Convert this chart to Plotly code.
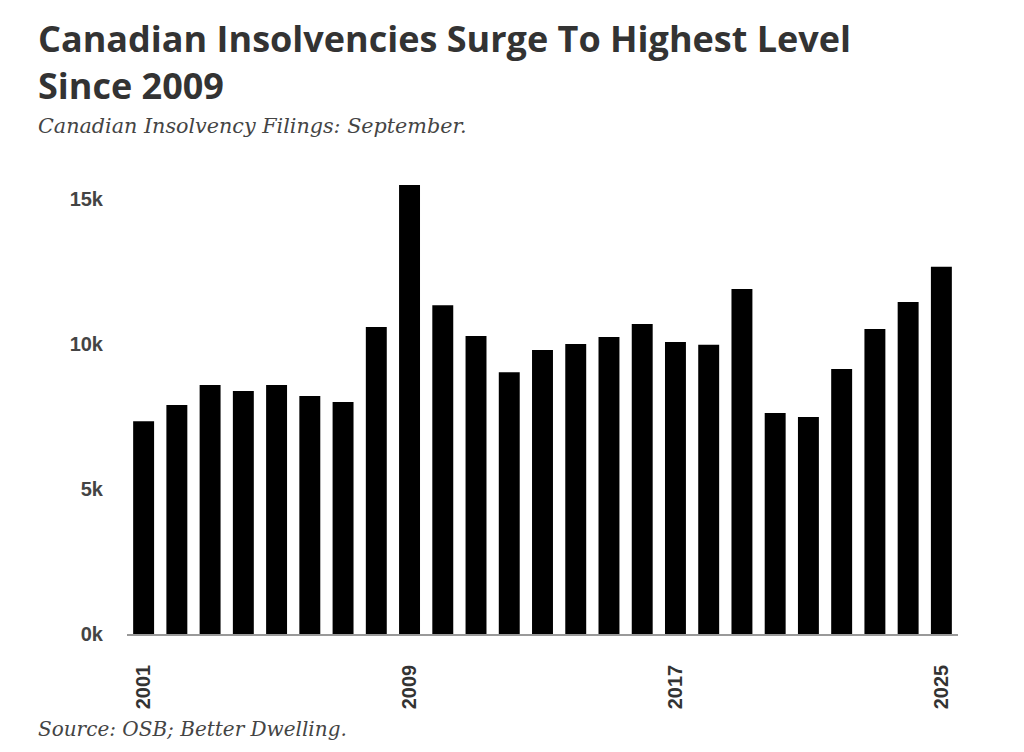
import plotly.graph_objects as go

years = [str(y) for y in range(2001, 2026)]
filings = [7340, 7900, 8590, 8380, 8590, 8210, 8000, 10590, 15480, 11340,
           10280, 9030, 9790, 10000, 10240, 10690, 10070, 9970, 11900, 7620,
           7480, 9140, 10520, 11450, 12660]
y_ticks = [0, 5000, 10000, 15000]
y_tick_labels = ["0k", "5k", "10k", "15k"]
x_ticks = ["2001", "2009", "2017", "2025"]

title = "Canadian Insolvencies Surge To Highest Level<br>Since 2009"
subtitle = "Canadian Insolvency Filings: September."
source = "Source: OSB; Better Dwelling."

L, R, T, B = 119, 74, 162, 126
W, H = 1024, 752
pw, ph = W - L - R, H - T - B


def px(x):
    return (x - L) / pw


def py(y):
    return (H - B - y) / ph


fig = go.Figure(go.Bar(x=years, y=filings, marker=dict(color="#000000", line=dict(width=0)),
                       hoverinfo="x+y"))

fig.update_layout(
    width=W, height=H,
    paper_bgcolor="white", plot_bgcolor="white",
    margin=dict(l=L, r=R, t=T, b=B),
    bargap=0.37,
    showlegend=False,
    font=dict(family="Liberation Sans, Arial, sans-serif", color="#444444"),
    xaxis=dict(type="category", tickmode="array", tickvals=x_ticks,
               ticktext=["<b>" + t + "</b>" for t in x_ticks],
               tickangle=-90, tickfont=dict(size=20, family="Liberation Sans, Arial", color="#333333"),
               showline=True, linecolor="#999999", linewidth=1.5, ticks="", showgrid=False,
               range=[-0.5, 24.5], ticklabelstandoff=21),
    yaxis=dict(range=[0, 16000], tickmode="array", tickvals=y_ticks,
               ticktext=["<b>" + t + "</b>" for t in y_tick_labels],
               tickfont=dict(size=20, family="Liberation Sans, Arial", color="#444444"),
               showgrid=False, zeroline=False, showline=False, ticks="", ticklabelstandoff=23),
)

fig.add_annotation(text="<b>" + title + "</b>", xref="paper", yref="paper",
                   x=px(28), y=py(4), xanchor="left", yanchor="top", align="left",
                   showarrow=False, font=dict(family="Open Sans, sans-serif", size=36, color="#333333"))
fig.add_annotation(text="<i>" + subtitle + "</i>", xref="paper", yref="paper",
                   x=px(28), y=py(118), xanchor="left", yanchor="middle", align="left",
                   showarrow=False, font=dict(family="DejaVu Serif, serif", size=20.7, color="#444444"))
fig.add_annotation(text="<i>" + source + "</i>", xref="paper", yref="paper",
                   x=px(28), y=py(721), xanchor="left", yanchor="middle", align="left",
                   showarrow=False, font=dict(family="DejaVu Serif, serif", size=20, color="#444444"))

fig.write_html("out.html")
